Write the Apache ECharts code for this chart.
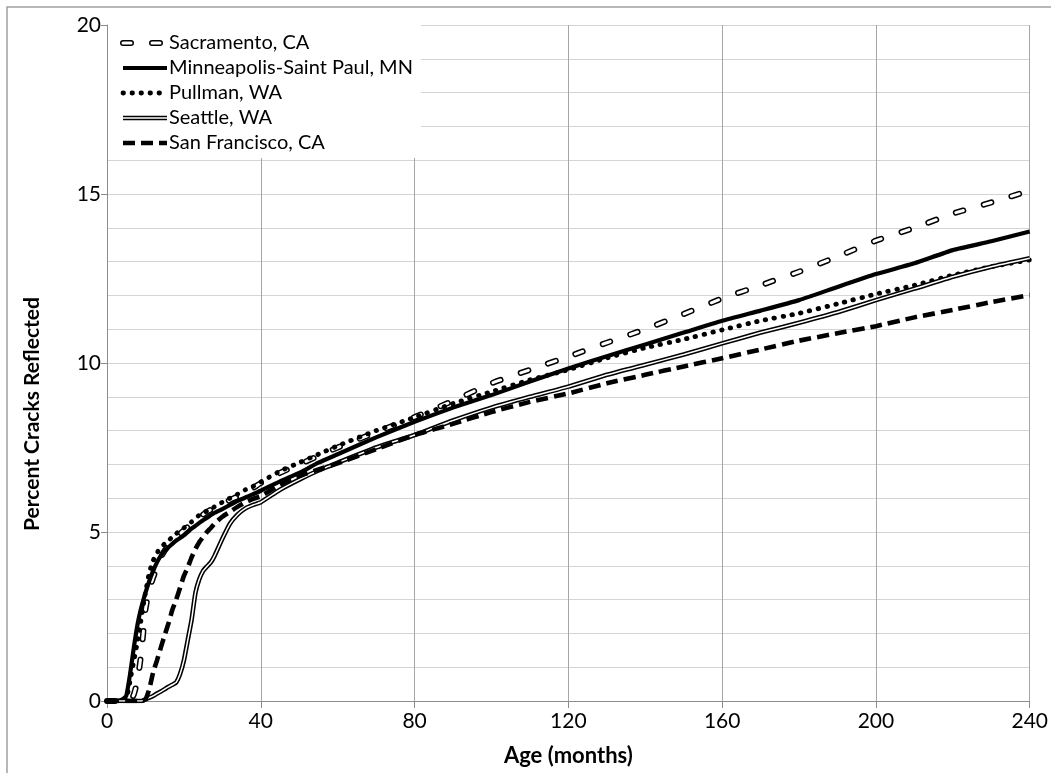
<!DOCTYPE html>
<html>
<head>
<meta charset="utf-8">
<script src="https://cdn.jsdelivr.net/npm/echarts@6/dist/echarts.min.js"></script>
<style>
html,body{margin:0;padding:0;background:#fff;}
#chart{width:1051px;height:773px;}
</style>
</head>
<body>
<div id="chart"></div>
<script>
// ---- data ----
const ages = [0,2,4,5,6,7,8,9,10,11,12,13,14,15,16,17,18,19,20,21,22,23,24,25,26,27,28,30,32,34,36,38,40,45,50,55,60,70,80,90,100,110,120,130,140,150,160,170,180,190,200,210,220,230,240];

const sacramento = [0,0,0, 0,0,0.2,0.65,1.5,2.7,3.3,3.65,3.95,4.25,4.45,4.6,4.72,4.85,4.95,5.05,5.15,5.25,5.35,5.45,5.52,5.6,5.66,5.72, 5.82,5.95,6.05,6.18,6.3,6.45, 6.75,7.0,7.25,7.5, 7.95,8.4,8.88,9.4,9.8,10.19,10.6,11.0,11.45,11.91,12.3,12.7,13.15,13.62,14.0,14.42,14.75,15.1];

const minneapolis = [0,0,0.05, 0.15,0.8,1.6,2.3,2.8,3.2,3.55,3.85,4.1,4.3,4.45,4.55,4.65,4.75,4.82,4.9,5.0,5.1,5.18,5.27,5.35,5.42,5.5,5.57, 5.68,5.8,5.92,6.02,6.12,6.22, 6.5,6.75,7.05,7.3, 7.8,8.26,8.68,9.05,9.45,9.84,10.2,10.55,10.9,11.25,11.55,11.86,12.25,12.63,12.95,13.34,13.6,13.89];

const pullman = [0,0,0, 0.05,0.6,1.2,1.8,2.5,3.2,3.8,4.15,4.38,4.55,4.65,4.75,4.85,4.95,5.05,5.12,5.2,5.3,5.4,5.5,5.57,5.62,5.68,5.75, 5.88,6.0,6.12,6.25,6.35,6.48, 6.8,7.05,7.3,7.55, 8.0,8.39,8.8,9.15,9.5,9.8,10.15,10.45,10.7,10.98,11.25,11.47,11.75,12.04,12.3,12.6,12.85,13.05];

const seattle = [0,0,0, 0,0,0,0,0,0.05,0.1,0.15,0.22,0.28,0.35,0.42,0.48,0.55,0.8,1.2,1.8,2.4,3.2,3.6,3.85,3.98,4.1,4.3, 4.8,5.25,5.52,5.7,5.8,5.88, 6.25,6.55,6.82,7.05, 7.5,7.87,8.3,8.68,9.0,9.3,9.65,9.95,10.25,10.58,10.9,11.19,11.5,11.86,12.2,12.55,12.85,13.1];

const sanFrancisco = [0,0,0, 0,0,0,0,0,0.05,0.35,0.85,1.2,1.58,1.95,2.3,2.7,3.0,3.35,3.7,3.95,4.25,4.5,4.7,4.85,5.0,5.12,5.25, 5.45,5.6,5.75,5.88,5.98,6.06, 6.4,6.65,6.85,7.03, 7.45,7.87,8.2,8.55,8.85,9.1,9.4,9.65,9.9,10.14,10.4,10.66,10.88,11.09,11.35,11.57,11.8,12.01];

const seriesNames = ['Sacramento, CA','Minneapolis-Saint Paul, MN','Pullman, WA','Seattle, WA','San Francisco, CA'];
const seriesValues = [sacramento, minneapolis, pullman, seattle, sanFrancisco];
const xTicks = [0,40,80,120,160,200,240];
const yTicks = [0,5,10,15,20];
const xTitle = 'Age (months)';
const yTitle = 'Percent Cracks Reflected';

// ---- styles (each series may be drawn as several stacked strokes) ----
const FONT = 'Lato';
const strokeStyles = [
  [ {color:'#000', width:6, type:[8,21], cap:'round'}, {color:'#fff', width:3, type:[8,21], cap:'round'} ],
  [ {color:'#000', width:4.2, type:'solid', cap:'butt'} ],
  [ {color:'#000', width:4.8, type:[0.5,8.5], cap:'round'} ],
  [ {color:'#000', width:4.6, type:'solid', cap:'butt'}, {color:'#fff', width:1.5, type:'solid', cap:'butt'} ],
  [ {color:'#000', width:4.6, type:[12,6], cap:'butt'} ]
];

const series = [];
seriesValues.forEach((vals, i) => {
  const pts = ages.map((a, k) => [a, vals[k]]);
  strokeStyles[i].forEach((st, j) => {
    series.push({
      name: seriesNames[i] + (j ? ' ' + j : ''),
      type: 'line',
      data: pts,
      showSymbol: false,
      symbol: 'none',
      smooth: 0.15,
      animation: false,
      silent: true,
      z: 2 + i,
      lineStyle: {color: st.color, width: st.width, type: st.type, cap: st.cap, join: 'round'}
    });
  });
});

// legend drawn as graphic elements
const LX = 108, LY = 25;
const graphics = [
  {type: 'rect', shape: {x: 7, y: 7, width: 1100, height: 800},
   style: {fill: null, stroke: '#a0a0a0', lineWidth: 1.5}, silent: true, z: 0},
  {type: 'rect', shape: {x: LX, y: LY, width: 313, height: 133},
   style: {fill: '#fff'}, silent: true, z: 100},
  {type: 'text', x: 32, y: 414, rotation: Math.PI / 2, z: 100,
   style: {text: yTitle, fill: '#000', font: 'bold 21px ' + FONT, align: 'center', verticalAlign: 'middle'}}
];
seriesNames.forEach((nm, i) => {
  const yy = LY + 18 + i * 25;
  strokeStyles[i].forEach(st => {
    graphics.push({
      type: 'line', z: 101, silent: true,
      shape: {x1: LX + 15, y1: yy, x2: LX + 59, y2: yy},
      style: {stroke: st.color, lineWidth: st.width, lineDash: st.type === 'solid' ? null : st.type, lineCap: st.cap}
    });
  });
  graphics.push({
    type: 'text', x: LX + 61, y: yy, z: 101, silent: true,
    style: {text: nm, fill: '#000', font: '20px ' + FONT, verticalAlign: 'middle', align: 'left'}
  });
});

const chart = echarts.init(document.getElementById('chart'), null, {renderer: 'canvas'});
chart.setOption({
  backgroundColor: '#fff',
  animation: false,
  grid: {left: 107, top: 25, right: 17, bottom: 72, containLabel: false},
  xAxis: {
    type: 'value', min: 0, max: 240, interval: 40,
    name: xTitle, nameLocation: 'middle', nameGap: 44,
    nameTextStyle: {fontFamily: FONT, fontSize: 22, fontWeight: 'bold', color: '#000'},
    axisLine: {show: true, lineStyle: {color: '#8c8c8c', width: 1}},
    axisTick: {show: true, inside: false, length: 7, lineStyle: {color: '#8c8c8c'}},
    axisLabel: {fontFamily: FONT, fontSize: 21, color: '#000', margin: 10,
      formatter: v => xTicks.includes(v) ? String(v) : ''},
    splitLine: {show: true, lineStyle: {color: '#a6a6a6', width: 1}}
  },
  yAxis: {
    type: 'value', min: 0, max: 20, interval: 5,
    axisLine: {show: true, lineStyle: {color: '#8c8c8c', width: 1}},
    axisTick: {show: true, inside: false, length: 6, lineStyle: {color: '#8c8c8c'}},
    axisLabel: {fontFamily: FONT, fontSize: 21, color: '#000', margin: 6,
      formatter: v => yTicks.includes(v) ? String(v) : ''},
    splitLine: {show: true, lineStyle: {color: '#d4d4d4', width: 1}},
    minorTick: {show: false, splitNumber: 5},
    minorSplitLine: {show: true, lineStyle: {color: '#d4d4d4', width: 1}}
  },
  series: series,
  graphic: graphics
});
</script>
</body>
</html>
